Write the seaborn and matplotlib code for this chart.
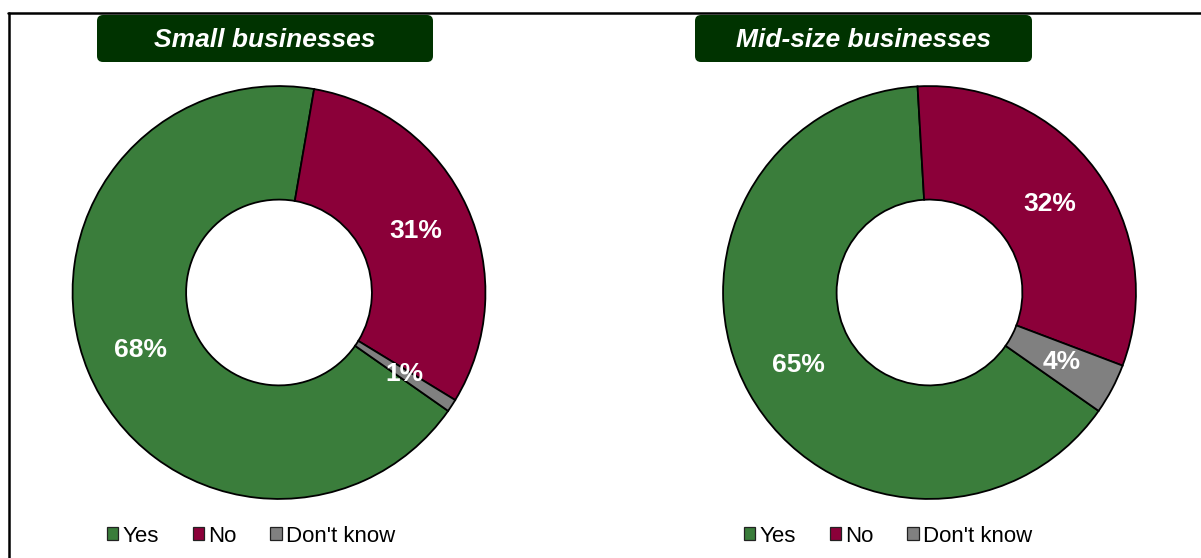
import matplotlib.pyplot as plt
import seaborn as sns
import numpy as np
from matplotlib.patches import Patch, FancyBboxPatch
from matplotlib.lines import Line2D

# survey answers, share of respondents (%)
answers = ["Yes", "No", "Don't know"]
small_pct = [68, 31, 1]
mid_pct = [65, 32, 4]
panel_titles = ["Small businesses", "Mid-size businesses"]

colors = ["#3a7d3b", "#8b0039", "#808080"]
title_green = "#003300"

sns.set_theme(style="white")
plt.rcParams["font.family"] = ["Liberation Sans", "DejaVu Sans"]

W, H = 1201, 558
fig = plt.figure(figsize=(W / 100, H / 100), dpi=100)
fig.patch.set_facecolor("white")

# pie centres / radius in pixels (top-down y)
centers = [(279, 292.5), (929.5, 292.5)]
radius = 208.5
boxes = [(97, 433), (695, 1032)]
legend_x = [98, 735]

for data, title, (cx, cy), (bx0, bx1), lx in zip(
    [small_pct, mid_pct], panel_titles, centers, boxes, legend_x
):
    ax = fig.add_axes([(cx - radius) / W, (H - cy - radius) / H, 2 * radius / W, 2 * radius / H])
    wedges, _ = ax.pie(
        data,
        colors=colors,
        startangle=325,
        counterclock=False,
        radius=1,
        wedgeprops=dict(width=0.55, edgecolor="black", linewidth=1.3),
    )
    ax.set_xlim(-1.01, 1.01)
    ax.set_ylim(-1.01, 1.01)
    ax.set_aspect("equal")
    ax.axis("off")

    # value labels in the middle of the ring
    for w, v in zip(wedges, data):
        ang = np.deg2rad((w.theta1 + w.theta2) / 2)
        ax.text(0.725 * np.cos(ang), 0.725 * np.sin(ang), f"{v}%",
                ha="center", va="center", color="white",
                fontsize=19, fontweight="bold")

    # dark green title banner
    box = FancyBboxPatch((bx0, H - 62), bx1 - bx0, 47,
                         boxstyle="round,pad=0,rounding_size=6",
                         transform=None, facecolor=title_green, edgecolor="none")
    fig.patches.append(box)
    fig.text((bx0 + bx1) / 2 / W, (H - 40) / H, title, ha="center", va="center",
             color="white", fontsize=19, fontweight="bold", fontstyle="italic")

    handles = [Patch(facecolor=c, edgecolor="#222222", linewidth=0.9) for c in colors]
    fig.legend(handles, answers, loc="center left",
               bbox_to_anchor=(lx / W, 22 / H), ncol=3, frameon=False,
               fontsize=16, labelcolor="black",
               handlelength=0.52, handleheight=0.52,
               handletextpad=0.2, columnspacing=1.5, borderaxespad=0)

# outer frame (only top and left visible)
fig.add_artist(Line2D([8.5 / W, 8.5 / W], [0, (H - 13) / H], color="black", lw=1.8,
                      transform=fig.transFigure))
fig.add_artist(Line2D([8 / W, 1], [(H - 13) / H, (H - 13) / H], color="black", lw=1.8,
                      transform=fig.transFigure))

fig.savefig("out.png", dpi=100)
